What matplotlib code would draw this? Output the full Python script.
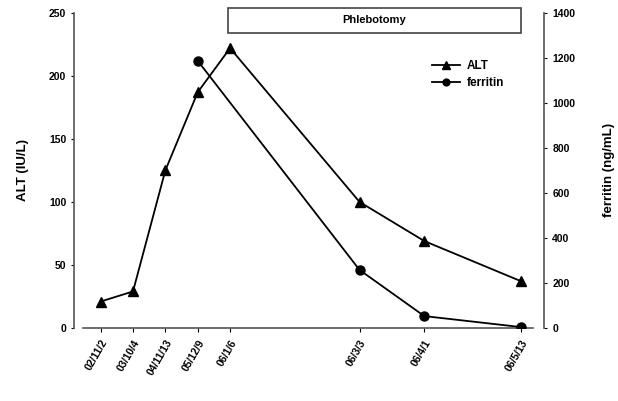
import matplotlib.pyplot as plt
import matplotlib.transforms as mtransforms
from matplotlib.patches import Rectangle

# dates and their position on the x axis (weeks-ish spacing as in the original)
dates = ['02/11/2', '03/10/4', '04/11/13', '05/12/9', '06/1/6', '06/3/3', '06/4/1', '06/5/13']
x_pos = [1, 3, 5, 7, 9, 17, 21, 27]

alt = [21, 29, 125, 187, 222, 100, 69, 37]
ferritin_x = [7, 17, 21, 27]
ferritin = [1187, 258, 53, 4]

phleb_start = 8.85
phleb_end = 27.0

plt.rcParams['font.family'] = ['Liberation Sans', 'DejaVu Sans']
plt.rcParams['font.weight'] = 'bold'

fig = plt.figure(figsize=(6.18, 4.01), dpi=100)
ax = fig.add_axes([0.134, 0.182, 0.728, 0.786])
ax2 = ax.twinx()

l1, = ax.plot(x_pos, alt, color='black', lw=1.3, marker='^', ms=7, label='ALT')
l2, = ax2.plot(ferritin_x, ferritin, color='black', lw=1.3, marker='o', ms=6.5, label='ferritin')

ax.set_xlim(-0.1, 27.7)
ax.set_ylim(0, 250)
ax2.set_ylim(0, 1400)
ax.set_yticks([0, 50, 100, 150, 200, 250])
ax2.set_yticks([0, 200, 400, 600, 800, 1000, 1200, 1400])
ax.set_xticks(x_pos)
ax.set_xticklabels(dates, rotation=60, ha='right', rotation_mode='anchor', fontsize=7.5)

for a in (ax, ax2):
    a.spines['top'].set_visible(False)
    a.tick_params(axis='y', labelsize=7.5, length=2.5, width=0.8)
ax.spines['right'].set_visible(False)
ax2.spines['left'].set_visible(False)
ax2.spines['bottom'].set_visible(False)
ax.spines['left'].set_position(('outward', 6))
ax2.spines['right'].set_position(('outward', 8))
for s in ('left', 'bottom'):
    ax.spines[s].set_linewidth(1.2)
    ax.spines[s].set_color('#555555')
ax2.spines['right'].set_linewidth(1.2)
ax2.spines['right'].set_color('#555555')
ax.tick_params(axis='x', length=3, width=0.8, pad=4)

ax.set_ylabel('ALT (IU/L)', fontsize=9.5, fontweight='bold', labelpad=14)
ax2.set_ylabel('ferritin (ng/mL)', fontsize=9.5, fontweight='bold', labelpad=20)

# phlebotomy bar above the plot
trans = mtransforms.blended_transform_factory(ax.transData, ax.transAxes)
rect = Rectangle((phleb_start, 0.937), phleb_end - phleb_start, 0.079, transform=trans,
                 facecolor='white', edgecolor='#444444', lw=1.2, clip_on=False, zorder=5)
ax.add_patch(rect)
ax.text((phleb_start + phleb_end) / 2, 0.976, 'Phlebotomy', transform=trans,
        ha='center', va='center', fontsize=8, fontweight='bold', zorder=6)

ax2.legend([l1, l2], ['ALT', 'ferritin'], loc='upper left', bbox_to_anchor=(0.765, 0.865),
           frameon=False, fontsize=8.5, handlelength=2.4, handletextpad=0.6, labelspacing=0.45,
           borderaxespad=0, markerscale=0.75)

fig.savefig('out.png', dpi=100)
